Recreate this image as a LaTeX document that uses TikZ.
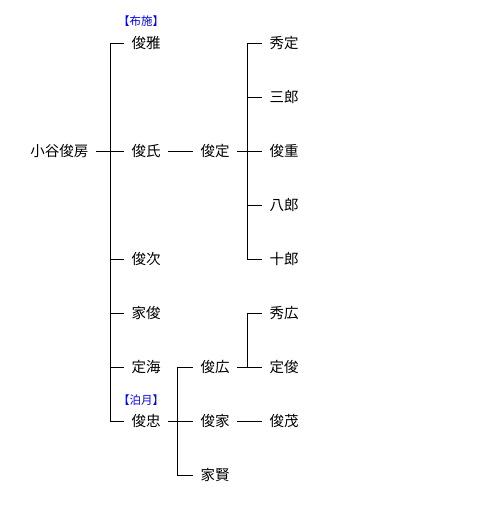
\documentclass[tikz,border=0pt]{standalone}
\usepackage{fontspec}
\newfontfamily\jp{Noto Sans CJK JP}
\usetikzlibrary{positioning}

\begin{document}
\begin{tikzpicture}
        [
            x=1pt, y=-1pt, line width=1pt,
            person/.style={anchor=west, inner xsep=7pt, inner ysep=2pt,
                           font=\jp\fontsize{14.5}{16}\selectfont},
            note/.style={text=blue, inner sep=0pt,
                         font=\jp\fontsize{11.5}{13}\selectfont}
        ]
        \useasboundingbox (0,0) rectangle (487,520);
        % first generation
        \node (toshifusa) [person] at (23,151) {小谷俊房};
        % sons
        \foreach \n/\t/\y in {toshimasa/俊雅/43, toshiuji/俊氏/151,
                              toshitsugu/俊次/259, ietoshi/家俊/313,
                              jokai/定海/367, toshitada/俊忠/421}
            \node (\n) [person] at (124,\y) {\t};
        % grandsons
        \foreach \n/\t/\y in {toshisada/俊定/151, toshihiro/俊広/367,
                              toshiie/俊家/421, iekata/家賢/475}
            \node (\n) [person] at (193,\y) {\t};
        % great-grandsons
        \foreach \n/\t/\y in {hidesada/秀定/43, saburo/三郎/97,
                              toshishige/俊重/151, hachiro/八郎/205,
                              juro/十郎/259, hidehiro/秀広/313,
                              sadatoshi/定俊/367, toshimochi/俊茂/421}
            \node (\n) [person] at (262,\y) {\t};
        \node (fuse) [note] at (141,21) {【布施】};
        \node (hakugetsu) [note] at (141,400) {【泊月】};

        % junctions
        \coordinate (j1) at (110,151);
        \coordinate (j2) at (247,151);
        \coordinate (j3) at (177,421);
        \coordinate (j4) at (247,367);

        \draw (toshifusa.east) -- (j1);
        \draw (toshimasa.west -| j1) -- (toshitada.west -| j1);
        \foreach \n in {toshimasa,toshiuji,toshitsugu,ietoshi,jokai,toshitada}
            \draw (\n.west -| j1) -- (\n.west);

        \draw (toshiuji) -- (toshisada);
        \draw (toshisada.east) -- (j2);
        \draw (hidesada.west -| j2) -- (juro.west -| j2);
        \foreach \n in {hidesada,saburo,toshishige,hachiro,juro}
            \draw (\n.west -| j2) -- (\n.west);

        \draw (toshitada.east) -- (j3);
        \draw (toshihiro.west -| j3) -- (iekata.west -| j3);
        \foreach \n in {toshihiro,toshiie,iekata}
            \draw (\n.west -| j3) -- (\n.west);

        \draw (toshihiro) -- (sadatoshi);
        \draw (hidehiro.west -| j4) -- (j4);
        \draw (hidehiro.west -| j4) -- (hidehiro.west);

        \draw (toshiie) -- (toshimochi);
    \end{tikzpicture}
\end{document}
